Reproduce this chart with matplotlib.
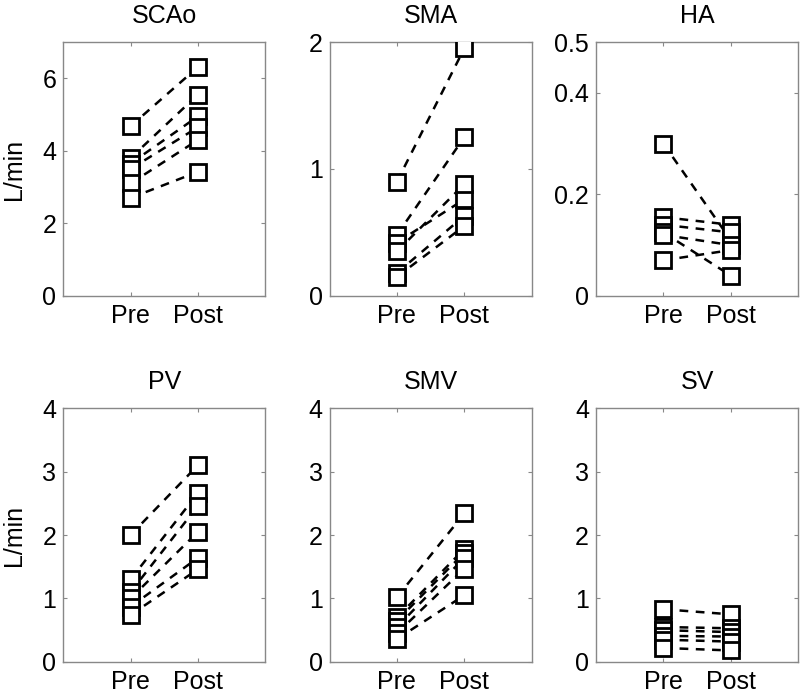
import matplotlib
matplotlib.use('Agg')
import matplotlib.pyplot as plt

plt.rcParams['font.family'] = ['Liberation Sans', 'DejaVu Sans']

titles = ['SCAo', 'SMA', 'HA', 'PV', 'SMV', 'SV']
conditions = ['Pre', 'Post']

# flow values (L/min), one entry per subject
scao_pre = [4.68, 3.80, 3.65, 3.50, 3.10, 2.70]
scao_post = [6.31, 5.55, 4.95, 4.65, 4.30, 3.42]
sma_pre = [0.90, 0.48, 0.42, 0.35, 0.18, 0.15]
sma_post = [1.95, 1.25, 0.76, 0.88, 0.63, 0.55]
ha_pre = [0.30, 0.155, 0.14, 0.125, 0.12, 0.07]
ha_post = [0.11, 0.14, 0.125, 0.04, 0.10, 0.09]
pv_pre = [2.00, 1.30, 1.10, 1.00, 0.87, 0.74]
pv_post = [3.10, 2.66, 2.46, 2.05, 1.64, 1.46]
smv_pre = [1.02, 0.70, 0.65, 0.55, 0.45, 0.36]
smv_post = [2.34, 1.78, 1.72, 1.64, 1.47, 1.05]
sv_pre = [0.83, 0.55, 0.50, 0.41, 0.35, 0.22]
sv_post = [0.75, 0.53, 0.47, 0.40, 0.32, 0.18]

pre_all = [scao_pre, sma_pre, ha_pre, pv_pre, smv_pre, sv_pre]
post_all = [scao_post, sma_post, ha_post, pv_post, smv_post, sv_post]
ylims = [7, 2, 0.5, 4, 4, 4]
yticks = [[0, 2, 4, 6], [0, 1, 2], [0, 0.2, 0.4, 0.5], [0, 1, 2, 3, 4], [0, 1, 2, 3, 4], [0, 1, 2, 3, 4]]
ytlabels = [['0', '2', '4', '6'], ['0', '1', '2'], ['0', '0.2', '0.4', '0.5'],
            ['0', '1', '2', '3', '4'], ['0', '1', '2', '3', '4'], ['0', '1', '2', '3', '4']]

fig = plt.figure(figsize=(8, 6.96), dpi=100)
lefts = [0.079, 0.412, 0.745]
bottoms = [0.575, 0.049]
w, h = 0.2525, 0.3645
edge = '#888888'

for i in range(6):
    r, c = divmod(i, 3)
    ax = fig.add_axes([lefts[c], bottoms[r], w, h])
    for a, b in zip(pre_all[i], post_all[i]):
        ax.plot([1, 2], [a, b], color='black', lw=1.8, ls=(0, (3.5, 3)),
                marker='s', ms=11, mfc='white', mec='black', mew=2, zorder=3)
    ax.set_xlim(0, 3)
    ax.set_ylim(0, ylims[i])
    ax.set_xticks([1, 2])
    ax.set_xticklabels(conditions)
    ax.set_yticks(yticks[i])
    ax.set_yticklabels(ytlabels[i])
    ax.tick_params(direction='in', length=3, width=0.8, color=edge,
                   top=True, right=True, labelsize=18)
    ax.tick_params(axis='x', pad=6)
    ax.tick_params(axis='y', pad=5)
    for s in ax.spines.values():
        s.set_color(edge)
        s.set_linewidth(1.0)
    ax.set_title(titles[i], fontsize=18, pad=14)
    if c == 0:
        ax.set_ylabel('L/min', fontsize=18, labelpad=12)

plt.savefig('out.png', dpi=100)
plt.close()
